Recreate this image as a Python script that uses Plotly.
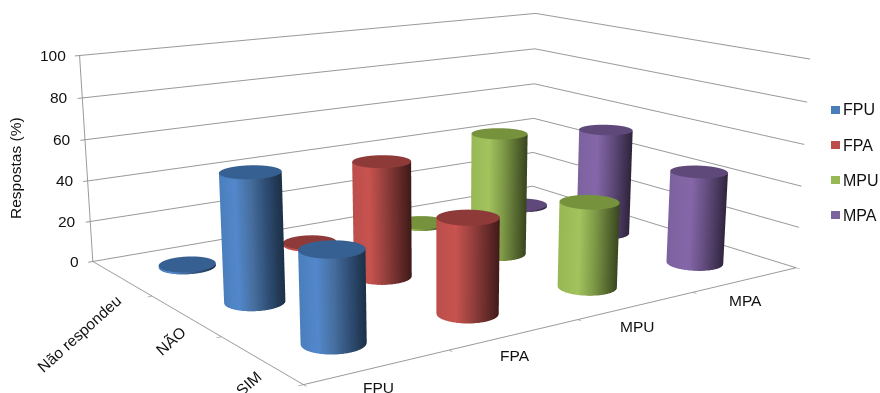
import numpy as np
import plotly.graph_objects as go

groups = ["FPU", "FPA", "MPU", "MPA"]
answers = ["SIM", "NÃO", "Não respondeu"]
FPU = [40, 59, 1]
FPA = [43, 55, 1]
MPU = [40, 60, 1]
MPA = [45, 54, 1]
series = [FPU, FPA, MPU, MPA]
z_ticks = [0, 20, 40, 60, 80, 100]

# camera of the 3-D scene
eye = np.array([-4.059, -5.783, 1.592])
center = [-0.837, -1.179, 0.0]
asp = [2.706, 2.024, 1.0]
H, S = 1271, 389

radius = 0.135
rx = radius*4/asp[0]; ry = radius*3/asp[1]
view = np.array(center)-eye; right = np.cross(view, [0, 0, 1.]); right /= np.linalg.norm(right)

palette = [
    ["#4a7ebb", "#5288cc", "#476f9f", "#2f4e75", "#1d3148", "#376092"],
    ["#bb4e4b", "#c8534f", "#98413e", "#6a2d2b", "#3f1a19", "#8e3a38"],
    ["#98b855", "#a2c35d", "#7f9a48", "#586b31", "#37431e", "#76923c"],
    ["#7d62a0", "#8567a9", "#664f82", "#47375b", "#2c2238", "#5f497a"],
]
stops = [0, 0.3, 0.55, 0.78, 1]
light = dict(ambient=1, diffuse=0, specular=0, roughness=1, fresnel=0)
theta = np.linspace(0, 2*np.pi, 121)

fig = go.Figure()
for i, (vals, pal) in enumerate(zip(series, palette)):
    for j, v in enumerate(vals):
        cx0, cy0 = i+.5, j+.5
        xs = np.outer(np.ones(2), cx0+rx*np.cos(theta))
        ys = np.outer(np.ones(2), cy0+ry*np.sin(theta))
        zs = np.outer([0, v], np.ones(theta.size))
        across = (np.cos(theta)*right[0]+np.sin(theta)*right[1]+1)/2
        fig.add_trace(go.Surface(x=xs, y=ys, z=zs, surfacecolor=np.outer(np.ones(2), across),
                                 cmin=0, cmax=1, showscale=False, lighting=light, hoverinfo="skip",
                                 colorscale=[[s, c] for s, c in zip(stops, pal[:5])]))
        rad = np.array([0, 1.0])
        xc = cx0+np.outer(rad, rx*np.cos(theta)); yc = cy0+np.outer(rad, ry*np.sin(theta))
        fig.add_trace(go.Surface(x=xc, y=yc, z=np.full(xc.shape, float(v)), surfacecolor=np.zeros(xc.shape),
                                 cmin=0, cmax=1, showscale=False, lighting=light, hoverinfo="skip",
                                 colorscale=[[0, pal[5]], [1, pal[5]]]))

GREY = "#999999"
FONT = dict(family="Liberation Sans, Arial, sans-serif", size=15.5, color="#111111")
notes = []
for t in z_ticks:
    notes.append(dict(x=0, y=3, z=t, text=str(t), xanchor="right", yanchor="middle", xshift=-12, showarrow=False, font=FONT))
for i, g in enumerate(groups):
    notes.append(dict(x=i+.5, y=0, z=0, text=g, xanchor="center", yanchor="middle", yshift=-21, showarrow=False, font=FONT))
for j, (a, sx, sy) in enumerate(zip(answers, [-12, -14, -42], [-24, -25, -55])):
    notes.append(dict(x=0, y=j+.5, z=0, text=a, xanchor="center", yanchor="middle", xshift=sx, yshift=sy,
                      textangle=-42, showarrow=False, font=FONT))

axis = dict(showbackground=False, showgrid=False, zeroline=False, showspikes=False, showticklabels=False,
            title=dict(text=""), showline=True, linecolor=GREY, linewidth=2, ticks="outside",
            tickcolor=GREY, ticklen=4, tickwidth=2)

def py(v):
    return 1-(v+S)/H

shapes, ann = [], []
for name, pal, yc in zip(groups, palette, [110, 145, 180, 215]):
    shapes.append(dict(type="rect", xref="paper", yref="paper", x0=831/880, x1=840/880, y0=py(yc+4), y1=py(yc-4),
                       fillcolor=pal[0], line=dict(width=0)))
    ann.append(dict(xref="paper", yref="paper", x=841/880, y=py(yc), text=name, xanchor="left", yanchor="middle",
                    showarrow=False, font=dict(FONT, size=16)))
ann.append(dict(xref="paper", yref="paper", x=15/880, y=py(168), text="Respostas (%)", textangle=-90,
                xanchor="center", yanchor="middle", showarrow=False, font=FONT))

fig.update_layout(
    width=880, height=H, margin=dict(l=0, r=0, t=0, b=0), paper_bgcolor="white", showlegend=False,
    shapes=shapes, annotations=ann,
    scene=dict(
        domain=dict(x=[0, 1], y=[0, 1]), aspectmode="manual", aspectratio=dict(x=asp[0], y=asp[1], z=asp[2]),
        camera=dict(eye=dict(x=eye[0], y=eye[1], z=eye[2]), center=dict(x=center[0], y=center[1], z=center[2]),
                    up=dict(x=0, y=0, z=1), projection=dict(type="perspective")),
        xaxis=dict(axis, range=[0, 4], tickvals=[0, 1, 2, 3, 4]),
        yaxis=dict(axis, range=[0, 3], tickvals=[0, 1, 2, 3]),
        zaxis=dict(axis, range=[0, 100], tickvals=z_ticks, ticklen=6, showgrid=True, gridcolor=GREY, gridwidth=2),
        annotations=notes, bgcolor="white",
    ),
)
# the tall plotting area sets the lens; the page shows only its upper part
shift = "var g=document.querySelector('.plotly-graph-div');g.style.marginTop='-%dpx';document.documentElement.style.overflow='hidden';document.body.style.overflow='hidden';" % S
fig.write_html("out.html", post_script=shift, config=dict(displayModeBar=False))
